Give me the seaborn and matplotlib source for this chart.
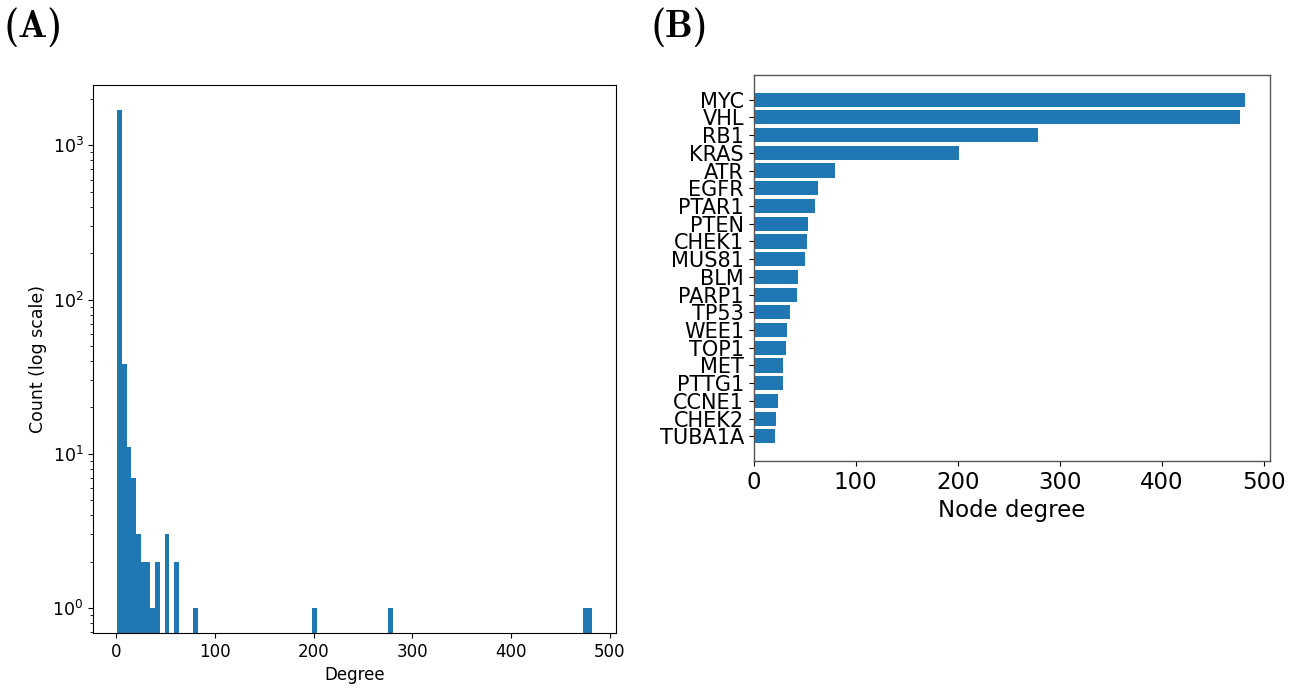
import os
import numpy as np
import pandas as pd
import matplotlib
matplotlib.use("Agg")
import matplotlib.pyplot as plt
from matplotlib.font_manager import FontProperties
import seaborn as sns

# Top-20 genes by node degree
genes = ["MYC", "VHL", "RB1", "KRAS", "ATR", "EGFR", "PTAR1", "PTEN", "CHEK1",
         "MUS81", "BLM", "PARP1", "TP53", "WEE1", "TOP1", "MET", "PTTG1",
         "CCNE1", "CHEK2", "TUBA1A"]
degrees = [482, 477, 279, 201, 80, 63, 60, 53, 52, 50, 43, 42, 36, 33, 32,
           29, 29, 24, 22, 21]

# Degree distribution: 100 equal-width bins between min and max degree
deg_min, deg_max, n_bins = 1, 482, 100
hist_bins = [0, 1, 2, 3, 4, 5, 6, 7, 8, 10, 12, 16, 41, 57, 98, 99]
hist_counts = [1700, 38, 11, 7, 3, 2, 2, 1, 2, 3, 2, 1, 1, 1, 1, 1]

panel_labels = ["(A)", "(B)"]

blue = "#1f77b4"

fig = plt.figure(figsize=(12.93, 6.89), dpi=100)
ax_a = fig.add_axes([0.0722, 0.0815, 0.4041, 0.7953])
ax_b = fig.add_axes([0.5829, 0.3309, 0.3993, 0.5602])

# ---- (A) degree histogram on a log count axis
bin_width = (deg_max - deg_min) / n_bins
centers = deg_min + (np.array(hist_bins) + 0.5) * bin_width
hist_df = pd.DataFrame({"degree": centers, "count": hist_counts})
sns.histplot(data=hist_df, x="degree", weights="count",
             binwidth=bin_width, binrange=(deg_min, deg_max),
             color=blue, alpha=1, linewidth=0, ax=ax_a)
ax_a.set_yscale("log")
ax_a.set_ylim(0.69, 2470)
ax_a.set_xlim(-23.05, 506.05)
ax_a.set_xticks([0, 100, 200, 300, 400, 500])
ax_a.set_xlabel("Degree", fontsize=12)
ax_a.set_ylabel("Count (log scale)", fontsize=12.5)
ax_a.tick_params(labelsize=12.5)
ax_a.tick_params(axis="x", labelsize=12)

# ---- (B) horizontal bars of node degree
bar_df = pd.DataFrame({"gene": genes, "degree": degrees})
sns.barplot(data=bar_df, x="degree", y="gene", orient="h", color=blue,
            saturation=1, width=0.8, ax=ax_b)
ax_b.set_ylim(20.39, -1.39)
ax_b.set_xlim(0, 506.1)
ax_b.set_xticks([0, 100, 200, 300, 400, 500])
ax_b.set_xlabel("Node degree", fontsize=16.5)
ax_b.set_ylabel("")
ax_b.tick_params(axis="x", labelsize=16.5)
ax_b.tick_params(axis="y", labelsize=15)
for sp in ax_b.spines.values():
    sp.set_color("#555555")
    sp.set_linewidth(1.0)

# Panel letters in Computer Modern bold
cmb = FontProperties(fname=os.path.join(matplotlib.get_data_path(),
                                        "fonts", "ttf", "cmb10.ttf"), size=28)
fig.text(0.003, 0.946, panel_labels[0], fontproperties=cmb)
fig.text(0.503, 0.946, panel_labels[1], fontproperties=cmb)

fig.savefig("out.png", dpi=100)
